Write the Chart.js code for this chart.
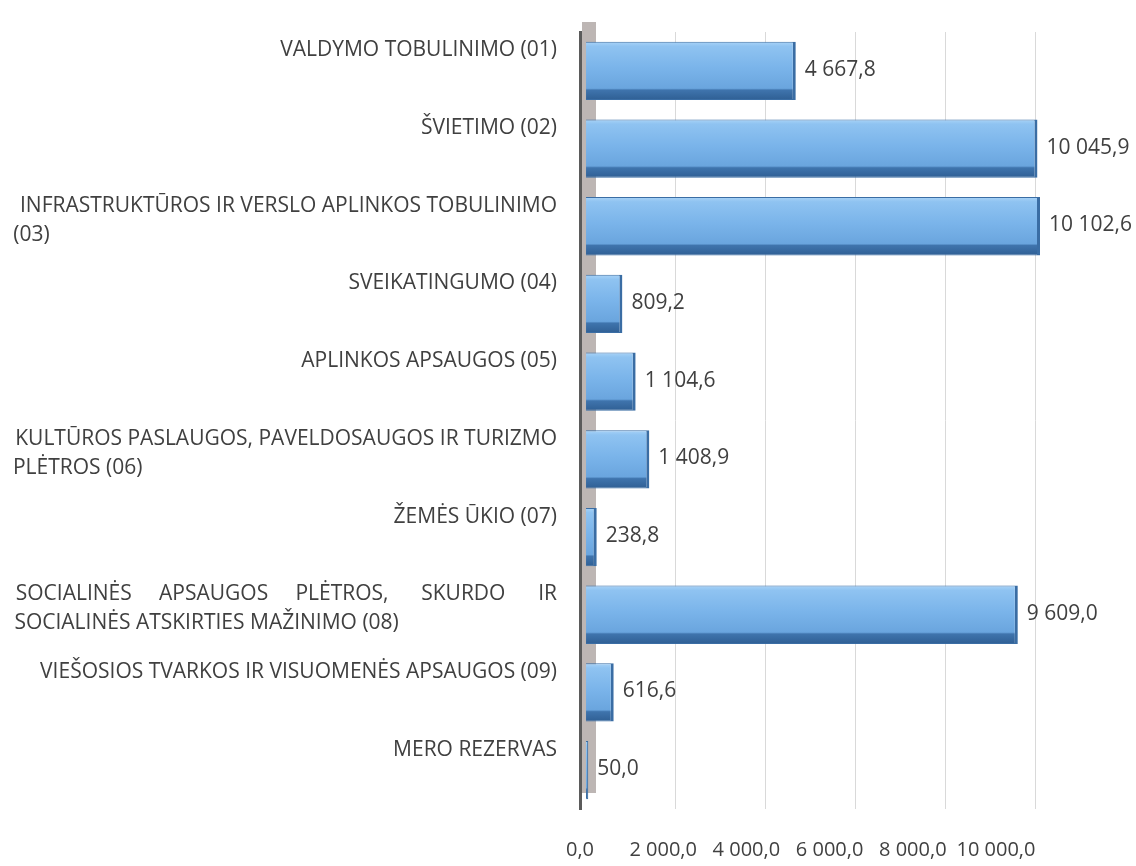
<!DOCTYPE html>
<html>
<head>
<meta charset="utf-8">
<script src="https://cdn.jsdelivr.net/npm/chart.js@4/dist/chart.umd.min.js"></script>
<style>
  html, body { margin: 0; padding: 0; background: #fff; }
  #wrap { width: 1136px; height: 866px; }
</style>
</head>
<body>
<div id="wrap"><canvas id="chart"></canvas></div>
<script>
// Programų asignavimai (tūkst. Eur)
const categories = [
    ['VALDYMO TOBULINIMO (01)'],
    ['ŠVIETIMO (02)'],
    ['INFRASTRUKTŪROS IR VERSLO APLINKOS TOBULINIMO', '(03)'],
    ['SVEIKATINGUMO (04)'],
    ['APLINKOS APSAUGOS (05)'],
    ['KULTŪROS PASLAUGOS, PAVELDOSAUGOS IR TURIZMO', 'PLĖTROS (06)'],
    ['ŽEMĖS ŪKIO (07)'],
    ['SOCIALINĖS APSAUGOS PLĖTROS, SKURDO IR', 'SOCIALINĖS ATSKIRTIES MAŽINIMO (08)'],
    ['VIEŠOSIOS TVARKOS IR VISUOMENĖS APSAUGOS (09)'],
    ['MERO REZERVAS']
];
const values = [4667.8, 10045.9, 10102.6, 809.2, 1104.6, 1408.9, 238.8, 9609.0, 616.6, 50.0];
const tickValues = [0, 2000, 4000, 6000, 8000, 10000];

const FONT = '"Open Sans", sans-serif';
const TEXT = '#404040';
const LABEL_WIDTH = 543;

// 4 667,8
function fmt(v) {
    const parts = v.toFixed(1).split('.');
    return parts[0].replace(/\B(?=(\d{3})+(?!\d))/g, ' ') + ',' + parts[1];
}

// Excel lygina kelių eilučių pavadinimus per visą plotį
const measure = document.createElement('canvas').getContext('2d');
measure.font = '21px ' + FONT;

function justify(text) {
    const words = text.split(' ');
    const gaps = words.length - 1;
    if (gaps < 1) return text;
    const spaces = new Array(gaps).fill(' ');
    const build = () => words.map((w, i) => w + (i < gaps ? spaces[i] : '')).join('');
    let k = 0;
    while (true) {
        const gi = gaps - 1 - (k % gaps);
        spaces[gi] += ' ';
        if (measure.measureText(build()).width > LABEL_WIDTH + 2) {
            spaces[gi] = spaces[gi].slice(1);
            break;
        }
        k++;
    }
    // jei tarpų neužtenka visiems, paliekam natūralų tarpą
    if (k < gaps) return text;
    return build();
}

function padRight(text) {
    let s = text;
    while (measure.measureText(s + ' ').width <= LABEL_WIDTH + 2) s += ' ';
    return s;
}

const axisLabels = categories.map(lines => {
    if (lines.length === 1) return [lines[0], ''];
    return lines.map((l, i) => i < lines.length - 1 ? justify(l) : padRight(l));
});

function barGradient(ctx) {
    const chart = ctx.chart;
    const y = chart.scales.y;
    if (!chart.chartArea || !y) return '#6fa8dc';
    const c = y.getPixelForValue(ctx.dataIndex);
    const h = (y.height / categories.length) * 0.75;
    const g = chart.ctx.createLinearGradient(0, c - h / 2, 0, c + h / 2);
    g.addColorStop(0, '#a9d3f7');
    g.addColorStop(0.08, '#8fc3f1');
    g.addColorStop(0.45, '#7ab4ea');
    g.addColorStop(0.8, '#6aa5de');
    g.addColorStop(0.83, '#3f74ad');
    g.addColorStop(1, '#2f5f94');
    return g;
}

// pilka sienelė kairėje
const wallPlugin = {
    id: 'wall',
    beforeDatasetsDraw(chart) {
        const { ctx, chartArea } = chart;
        ctx.save();
        ctx.fillStyle = '#bdb6b4';
        ctx.fillRect(chartArea.left + 2, chartArea.top - 10, 14, chartArea.bottom - chartArea.top - 6);
        ctx.restore();
    }
};

const valueLabels = {
    id: 'valueLabels',
    afterDatasetsDraw(chart) {
        const ctx = chart.ctx;
        ctx.save();
        ctx.font = '21px ' + FONT;
        ctx.fillStyle = TEXT;
        ctx.textBaseline = 'middle';
        ctx.textAlign = 'left';
        chart.getDatasetMeta(0).data.forEach((bar, i) => {
            ctx.fillText(fmt(values[i]), bar.x + 9, bar.y - 1);
        });
        ctx.restore();
    }
};

const noPad = s => { s.paddingTop = 0; s.paddingBottom = 0; s.paddingLeft = 0; s.paddingRight = 0; };

const ctx = document.getElementById('chart').getContext('2d');
new Chart(ctx, {
    type: 'bar',
    data: {
        labels: axisLabels,
        datasets: [{
            data: values,
            backgroundColor: barGradient,
            borderColor: '#3a6da4',
            borderWidth: { top: 1, right: 3, bottom: 1, left: 0 },
            borderSkipped: false,
            barPercentage: 0.75,
            categoryPercentage: 1,
            xAxisID: 'x'
        }]
    },
    options: {
        indexAxis: 'y',
        responsive: true,
        maintainAspectRatio: false,
        animation: false,
        layout: { padding: { top: 32, right: 70, bottom: 0, left: 0 } },
        plugins: {
            legend: { display: false },
            tooltip: { enabled: false }
        },
        scales: {
            y: {
                type: 'category',
                grid: { display: false, drawTicks: false },
                border: { display: true, color: '#5b5b5b', width: 3 },
                afterFit: s => { s.width = 580; noPad(s); },
                ticks: {
                    autoSkip: false,
                    padding: 23,
                    labelOffset: -6,
                    color: TEXT,
                    font: { family: FONT, size: 21, lineHeight: 1.38 }
                }
            },
            x: {
                type: 'linear',
                position: 'bottom',
                min: -134,
                max: 10681,
                afterBuildTicks: s => { s.ticks = tickValues.filter(v => v > 0).map(v => ({ value: v })); },
                afterFit: s => { noPad(s); s.height = 0; },
                grid: { color: '#d9d9d9', lineWidth: 1, drawTicks: false },
                border: { display: false },
                ticks: { display: false }
            },
            // grindų perspektyva: skalės žymės pasislenka į kairę
            x2: {
                type: 'linear',
                position: 'bottom',
                min: 0,
                max: 11683,
                afterBuildTicks: s => { s.ticks = tickValues.map(v => ({ value: v })); },
                afterFit: s => { noPad(s); s.height = 57; },
                grid: { display: false, drawTicks: false },
                border: { display: false },
                ticks: {
                    padding: 29,
                    maxRotation: 0,
                    autoSkip: false,
                    color: TEXT,
                    font: { family: FONT, size: 20 },
                    callback: v => fmt(v)
                }
            }
        }
    },
    plugins: [wallPlugin, valueLabels]
});
</script>
</body>
</html>
